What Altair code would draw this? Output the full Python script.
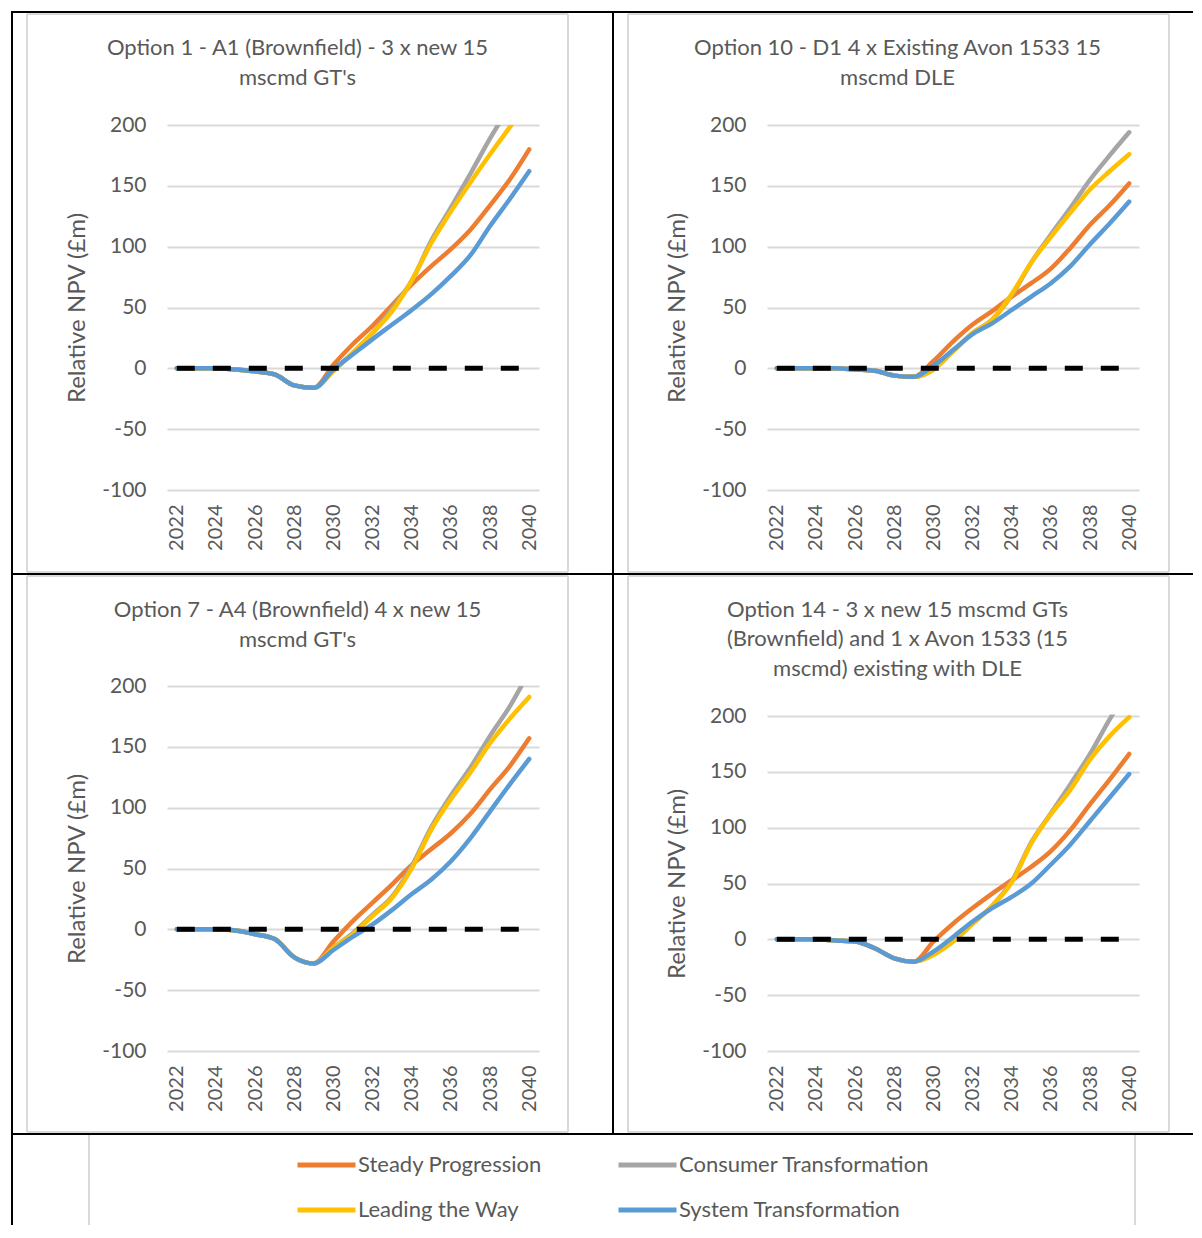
import altair as alt
import pandas as pd

# ---------------- data ----------------
years = [2022, 2023, 2024, 2025, 2026, 2027, 2028, 2029, 2030, 2031,
         2032, 2033, 2034, 2035, 2036, 2037, 2038, 2039, 2040]
x_tick_labels = [2022, 2024, 2026, 2028, 2030, 2032, 2034, 2036, 2038, 2040]
y_tick_labels = [-100, -50, 0, 50, 100, 150, 200]

series_names = ["Steady Progression", "Consumer Transformation",
                "Leading the Way", "System Transformation"]
series_colors = ["#ED7D31", "#A5A5A5", "#FFC000", "#5B9BD5"]
# legend fills column by column: this order gives rows
# (Steady Progression, Consumer Transformation) / (Leading the Way, System Transformation)
legend_order = ["Steady Progression", "Leading the Way",
                "Consumer Transformation", "System Transformation"]
legend_colors = ["#ED7D31", "#FFC000", "#A5A5A5", "#5B9BD5"]

title_opt1 = ["Option 1 - A1 (Brownfield) - 3 x new 15", "mscmd GT's"]
title_opt10 = ["Option 10 - D1 4 x Existing Avon 1533 15", "mscmd DLE"]
title_opt7 = ["Option 7 - A4 (Brownfield) 4 x new 15", "mscmd GT's"]
title_opt14 = ["Option 14 - 3 x new 15 mscmd GTs",
               "(Brownfield) and 1 x Avon 1533 (15",
               "mscmd) existing with DLE"]

opt1_steady = [0, 0, 0, -1, -2.5, -5, -14, -16, 3, 20, 35, 52, 69, 84, 98, 114, 134, 155, 180]
opt1_consumer = [0, 0, 0, -1, -2.5, -5, -14, -16, -2, 13, 29, 49, 72, 105, 132, 160, 189, 215, 240]
opt1_leading = [0, 0, 0, -1, -2.5, -5, -14, -16, -2, 13, 29, 47, 72, 103, 129, 153, 176, 198, 220]
opt1_system = [0, 0, 0, -1, -2.5, -5, -14, -16, -1, 11.5, 24, 36, 48, 61, 76, 93, 117, 139, 162]

opt10_steady = [0, 0, 0, 0, -1, -2, -6, -7, 6, 22, 36, 47, 59, 70, 82, 99, 118, 134, 152]
opt10_consumer = [0, 0, 0, 0, -1, -2, -6, -7, -1, 14, 29, 40, 60, 87, 110, 132, 155, 175, 194]
opt10_leading = [0, 0, 0, 0, -1, -2, -6, -7, -1, 14, 29, 40, 61, 87, 108, 128, 147, 162, 176]
opt10_system = [0, 0, 0, 0, -1, -2, -6, -7, 2, 15, 28, 37, 48, 59, 70, 84, 102, 119, 137]

opt7_steady = [0, 0, 0, -1, -4, -8, -23, -28, -10, 7, 22, 37, 53, 66, 79, 95, 115, 134, 157]
opt7_consumer = [0, 0, 0, -1, -4, -8, -23, -28, -15, -3, 12, 27, 52, 84, 110, 133, 159, 183, 212]
opt7_leading = [0, 0, 0, -1, -4, -8, -23, -28, -15, -4, 11, 26, 50, 82, 107, 129, 153, 173, 191]
opt7_system = [0, 0, 0, -1, -4, -8, -23, -28, -17, -6, 4, 16, 29, 41, 56, 75, 97, 119, 140]

opt14_steady = [0, 0, 0, -1, -2, -8, -17, -20, -2, 14, 28, 41, 53, 65, 79, 98, 121, 143, 166]
opt14_consumer = [0, 0, 0, -1, -2, -8, -17, -20, -13, -2, 14, 30, 52, 87, 113, 139, 166, 197, 225]
opt14_leading = [0, 0, 0, -1, -2, -8, -17, -20, -14, -2, 14, 30, 51, 86, 112, 134, 161, 182, 199]
opt14_system = [0, 0, 0, -1, -2, -8, -17, -20, -11, 2, 16, 28, 38, 50, 67, 85, 106, 127, 148]

zero_line_years = [2022, 2040]
zero_line_values = [0, 0]

# ---------------- styling ----------------
FONT = "Lato"
TXT = "#595959"
GRID = "#D9D9D9"
BOX = "#D9D9D9"
W = 372

one = pd.DataFrame({"k": [0]})


def hline(y, x1, x2, color, w):
    return alt.Chart(one).mark_rule(color=color, strokeWidth=w, strokeCap="butt").encode(
        x=alt.value(x1), x2=alt.value(x2), y=alt.value(y))


def vline(x, y1, y2, color, w):
    return alt.Chart(one).mark_rule(color=color, strokeWidth=w, strokeCap="butt").encode(
        x=alt.value(x), y=alt.value(y1), y2=alt.value(y2))


def grey_box(x1, x2, y1, y2):
    return [hline(y1, x1, x2, BOX, 2), hline(y2, x1, x2, BOX, 2),
            vline(x1, y1, y2, BOX, 2), vline(x2, y1, y2, BOX, 2)]


def title_text(lines, y_positions):
    out = []
    for line, yy in zip(lines, y_positions):
        out.append(
            alt.Chart(one).mark_text(font=FONT, fontSize=22, color=TXT, align="center",
                                     baseline="middle")
            .encode(x=alt.value(130.5), y=alt.value(yy), text=alt.value(line))
        )
    return out


legend = alt.Legend(title=None, orient="none", legendX=128, legendY=1027.5,
                    columns=2, columnPadding=74, rowPadding=20, padding=0,
                    symbolType="stroke", symbolSize=3364, symbolStrokeWidth=5,
                    clipHeight=25, labelFont=FONT, labelFontSize=22,
                    labelColor=TXT, labelOffset=0, labelLimit=400)


def panel(title_lines, title_ys, values, plot_top, deco, cover=False):
    H = 365
    rows = []
    for name, vals in zip(series_names, values):
        for yr, v in zip(years, vals):
            rows.append({"year": yr, "value": v, "series": name})
    df = pd.DataFrame(rows)
    zdf = pd.DataFrame({"year": zero_line_years, "value": zero_line_values})

    xscale = alt.Scale(domain=[2021.5, 2040.5], nice=False, zero=False)
    yscale = alt.Scale(domain=[-100, 200], nice=False, zero=False, range=[H, plot_top])
    xaxis = alt.Axis(values=x_tick_labels, format="d", labelAngle=270, grid=False,
                     domain=False, ticks=False, labelFont=FONT, labelFontSize=20,
                     labelColor=TXT, labelPadding=14, title=None, labelOverlap=False)
    yaxis = alt.Axis(values=y_tick_labels, grid=True, gridColor=GRID, gridWidth=2,
                     domain=False, ticks=False, labelFont=FONT, labelFontSize=21,
                     labelColor=TXT, labelPadding=21, labelExpr="'' + datum.value",
                     title="Relative NPV (£m)",
                     titleFont=FONT, titleFontSize=24, titleFontWeight="normal",
                     titleColor=TXT, titleX=-90, titleY=(H + plot_top) / 2,
                     titleAngle=270, titleBaseline="middle", titleAlign="center")
    x = alt.X("year:Q", scale=xscale, axis=xaxis)
    y = alt.Y("value:Q", scale=yscale, axis=yaxis)
    color = alt.Color("series:N", scale=alt.Scale(domain=legend_order, range=legend_colors),
                      legend=legend)

    layers = list(deco) + title_text(title_lines, title_ys)
    for name in series_names:
        layers.append(
            alt.Chart(df).transform_filter(alt.datum.series == name)
            .mark_line(strokeWidth=4.5, clip=True, interpolate="monotone", strokeCap="round")
            .encode(x=x, y=y, color=color)
        )
    layers.append(
        alt.Chart(zdf).mark_line(color="black", strokeWidth=5, strokeDash=[18, 18],
                                 strokeCap="butt")
        .encode(x=x, y=y)
    )
    if cover:
        layers.append(
            alt.Chart(one).mark_rect(color="white").encode(
                x=alt.value(0), x2=alt.value(W), y=alt.value(0), y2=alt.value(plot_top - 1.5))
        )
    return alt.layer(*layers).properties(width=W, height=H)


# decorations (table lines and chart boxes), relative to each plot's origin
deco_tl = grey_box(-140, 401, -111, 447) + [
    hline(-113, -156, 446, "black", 2),
    vline(-155, -114, 449, "black", 2),
    vline(446, -113, 449, "black", 2),
]
deco_tr = grey_box(-139, 402, -111, 447) + [
    hline(-113, -154, 426, "black", 2),
]
deco_bl = grey_box(-140, 401, -110, 446) + [
    hline(-112, -156, 446, "black", 2),
    vline(-155, -112, 539, "black", 2),
    vline(446, -112, 448, "black", 2),
    hline(448, -156, 1026, "black", 2),
    vline(-78, 449, 539, BOX, 2),
    vline(968, 449, 539, BOX, 2),
]
deco_br = grey_box(-139, 402, -110, 446) + [
    hline(-112, -154, 426, "black", 2),
]

p1 = panel(title_opt1, [-77, -47],
           [opt1_steady, opt1_consumer, opt1_leading, opt1_system], 0, deco_tl)
p2 = panel(title_opt10, [-77, -47],
           [opt10_steady, opt10_consumer, opt10_leading, opt10_system], 0, deco_tr)
p3 = panel(title_opt7, [-76, -46],
           [opt7_steady, opt7_consumer, opt7_leading, opt7_system], 0, deco_bl)
p4 = panel(title_opt14, [-76, -47, -17],
           [opt14_steady, opt14_consumer, opt14_leading, opt14_system], 30, deco_br,
           cover=True)

chart = alt.concat(p1, p2, p3, p4, columns=2, spacing={"row": 196, "column": 228},
                   bounds="flush").properties(
    padding={"left": 2, "top": 2, "right": 0, "bottom": 0},
    background="white",
).configure_view(stroke=None)

chart.save("out.html", embed_options={"renderer": "svg", "actions": False})
